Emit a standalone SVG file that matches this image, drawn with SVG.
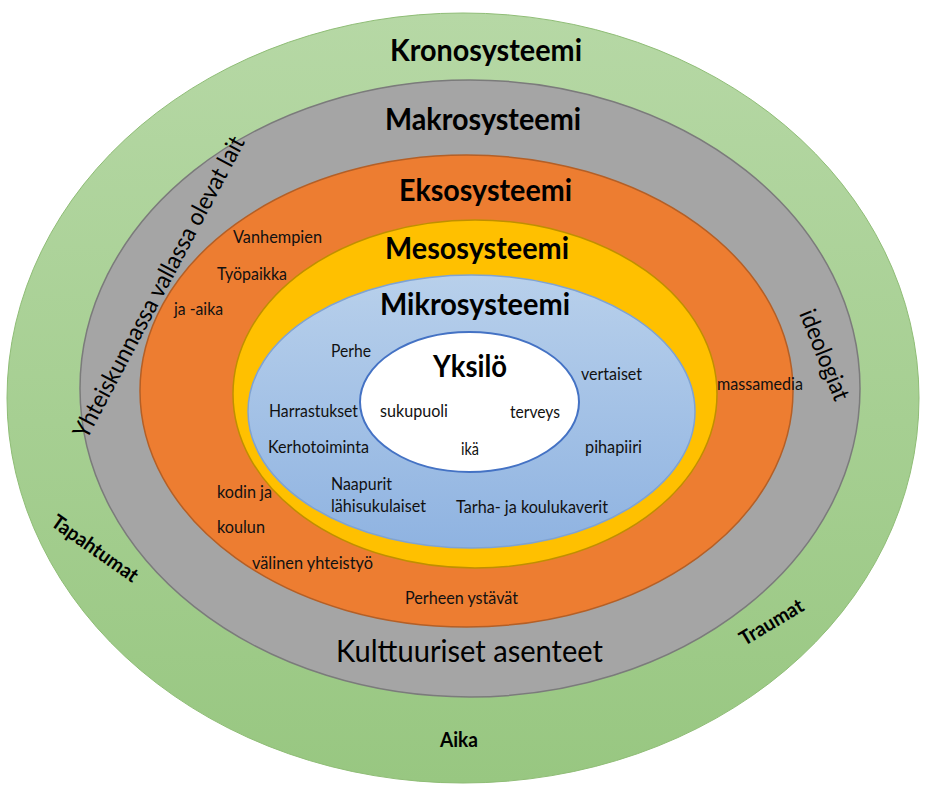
<svg xmlns="http://www.w3.org/2000/svg" width="929" height="792" viewBox="0 0 929 792">
  <defs>
    <linearGradient id="gGreen" x1="0" y1="0" x2="0" y2="1">
      <stop offset="0" stop-color="#b6d8a5"/>
      <stop offset="1" stop-color="#98c781"/>
    </linearGradient>
    <linearGradient id="gBlue" x1="0" y1="0" x2="0" y2="1">
      <stop offset="0" stop-color="#b8d0eb"/>
      <stop offset="1" stop-color="#8fb3e1"/>
    </linearGradient>
  </defs>
  <style>
    text { font-family: Lato, "Liberation Sans", sans-serif; fill: #000; }
    .h { font-size: 30px; font-weight: 700; }
    .s { font-size: 16.5px; fill: #111; }
    .b { font-size: 20px; font-weight: 700; }
    .r { font-size: 24px; }
  </style>
  <rect width="929" height="792" fill="#ffffff"/>

  <g id="kronosysteemi">
    <ellipse cx="463" cy="398" rx="456" ry="385" fill="url(#gGreen)" stroke="#8fbd76" stroke-width="1"/>
    <text class="h" x="390" y="61" textLength="192" lengthAdjust="spacingAndGlyphs">Kronosysteemi</text>
    <text class="b" x="440" y="747" textLength="38" lengthAdjust="spacingAndGlyphs">Aika</text>
    <text class="b" x="91" y="554" text-anchor="middle" textLength="101" lengthAdjust="spacingAndGlyphs" transform="rotate(35 91 554)">Tapahtumat</text>
    <text class="b" x="775" y="628" text-anchor="middle" textLength="71" lengthAdjust="spacingAndGlyphs" transform="rotate(-31 775 628)">Traumat</text>
  </g>

  <g id="makrosysteemi">
    <ellipse cx="470" cy="388.5" rx="390" ry="308.5" fill="#a5a5a5" stroke="#7b7b7b" stroke-width="1.5"/>
    <text class="h" x="385" y="130" textLength="196" lengthAdjust="spacingAndGlyphs">Makrosysteemi</text>
    <text x="336" y="662" font-size="31" textLength="267" lengthAdjust="spacingAndGlyphs">Kulttuuriset asenteet</text>
    <text class="r" x="166" y="291" text-anchor="middle" textLength="338" lengthAdjust="spacingAndGlyphs" transform="rotate(-62 166 291)">Yhteiskunnassa vallassa olevat lait</text>
    <text class="r" x="817" y="358" text-anchor="middle" textLength="96" lengthAdjust="spacingAndGlyphs" transform="rotate(68 817 358)">ideologiat</text>
  </g>

  <g id="eksosysteemi">
    <ellipse cx="466.5" cy="391" rx="326.5" ry="236" fill="#ed7d31" stroke="#b45f26" stroke-width="1.5"/>
    <text class="h" x="399" y="201" textLength="173" lengthAdjust="spacingAndGlyphs">Eksosysteemi</text>
    <text class="s" x="233" y="243" textLength="89" lengthAdjust="spacingAndGlyphs">Vanhempien</text>
    <text class="s" x="217" y="280" textLength="70" lengthAdjust="spacingAndGlyphs">Työpaikka</text>
    <text class="s" x="174" y="315" textLength="49" lengthAdjust="spacingAndGlyphs">ja -aika</text>
    <text class="s" x="717" y="390" textLength="86" lengthAdjust="spacingAndGlyphs">massamedia</text>
    <text class="s" x="217" y="498" textLength="55" lengthAdjust="spacingAndGlyphs">kodin ja</text>
    <text class="s" x="217" y="533" textLength="48" lengthAdjust="spacingAndGlyphs">koulun</text>
    <text class="s" x="252" y="569" textLength="121" lengthAdjust="spacingAndGlyphs">välinen yhteistyö</text>
    <text class="s" x="405" y="604" textLength="113" lengthAdjust="spacingAndGlyphs">Perheen ystävät</text>
  </g>

  <g id="mesosysteemi">
    <ellipse cx="475" cy="394" rx="242" ry="174" fill="#ffc000" stroke="#c08f00" stroke-width="1.5"/>
    <text class="h" x="385" y="259" textLength="184" lengthAdjust="spacingAndGlyphs">Mesosysteemi</text>
  </g>

  <g id="mikrosysteemi">
    <ellipse cx="471.5" cy="411.5" rx="223.5" ry="136.5" fill="url(#gBlue)" stroke="#7fa3d3" stroke-width="1.5"/>
    <text class="h" x="380" y="315" textLength="190" lengthAdjust="spacingAndGlyphs">Mikrosysteemi</text>
    <text class="s" x="331" y="357" textLength="40" lengthAdjust="spacingAndGlyphs">Perhe</text>
    <text class="s" x="581" y="380" textLength="61" lengthAdjust="spacingAndGlyphs">vertaiset</text>
    <text class="s" x="269" y="417" textLength="89" lengthAdjust="spacingAndGlyphs">Harrastukset</text>
    <text class="s" x="268" y="453" textLength="101" lengthAdjust="spacingAndGlyphs">Kerhotoiminta</text>
    <text class="s" x="585" y="453" textLength="57" lengthAdjust="spacingAndGlyphs">pihapiiri</text>
    <text class="s" x="331" y="490" textLength="61" lengthAdjust="spacingAndGlyphs">Naapurit</text>
    <text class="s" x="331" y="512" textLength="95" lengthAdjust="spacingAndGlyphs">lähisukulaiset</text>
    <text class="s" x="456" y="513" textLength="152" lengthAdjust="spacingAndGlyphs">Tarha- ja koulukaverit</text>
  </g>

  <g id="yksilo">
    <ellipse cx="469.5" cy="402" rx="109.5" ry="70" fill="#ffffff" stroke="#4472c4" stroke-width="2"/>
    <text class="h" x="433" y="377" textLength="74" lengthAdjust="spacingAndGlyphs">Yksilö</text>
    <text class="s" x="380" y="417" textLength="68" lengthAdjust="spacingAndGlyphs">sukupuoli</text>
    <text class="s" x="510" y="418" textLength="50" lengthAdjust="spacingAndGlyphs">terveys</text>
    <text class="s" x="461" y="455" textLength="18" lengthAdjust="spacingAndGlyphs">ikä</text>
  </g>

  <g id="connectors"/>
</svg>
